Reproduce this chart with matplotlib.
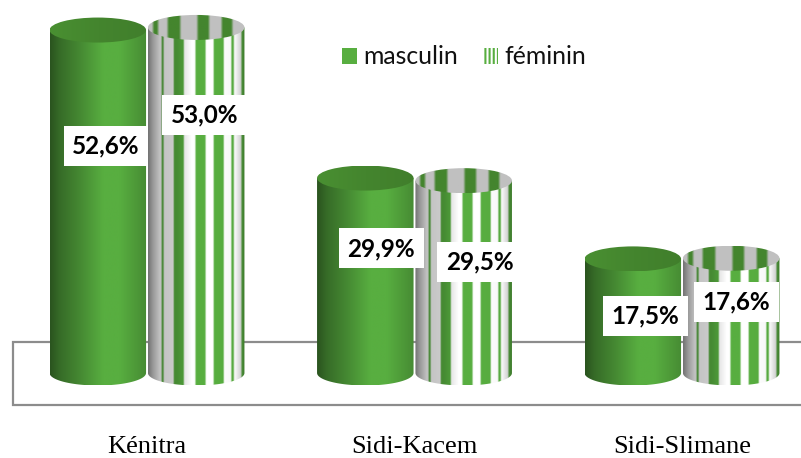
import numpy as np
import matplotlib
matplotlib.use("Agg")
import matplotlib.pyplot as plt
from matplotlib.patches import Polygon, Ellipse, Patch
from matplotlib.colors import to_rgb

categories = ["Kénitra", "Sidi-Kacem", "Sidi-Slimane"]
series_names = ["masculin", "féminin"]
masculin = [52.6, 29.9, 17.5]
feminin = [53.0, 29.5, 17.6]
labels_m = ["52,6%", "29,9%", "17,5%"]
labels_f = ["53,0%", "29,5%", "17,6%"]

W, H = 801, 458
PX_PER_UNIT = 6.52
CAT_PX = 267.5
X0_PX, BASE_PX = 147.0, 373.0
BAR_W = 96.5 / CAT_PX
OFFSET = 49.2 / CAT_PX
EH = 12.5 / PX_PER_UNIT  # ellipse half height

GREEN = np.array(to_rgb("#58ae40"))
TOP_GREEN = np.array(to_rgb("#44852e"))
GREY = np.array(to_rgb("#c0c0c0"))
BODY_STRIPES = [(0.14, 0.16), (0.265, 0.37), (0.49, 0.595), (0.68, 0.785), (0.86, 0.885), (0.965, 1.0)]
TOP_STRIPES = [(0.05, 0.10), (0.20, 0.33), (0.51, 0.63), (0.76, 0.87)]

label_dx = [[8, 8], [16, 16], [12.5, 5]]
label_y = [[34.8, 39.6], [19.1, 17.0], [8.7, 10.9]]

plt.rcParams["hatch.linewidth"] = 1.5

fig = plt.figure(figsize=(W / 100, H / 100), dpi=100)
ax = fig.add_axes([0, 0, 1, 1])
xlim = (-X0_PX / CAT_PX, (W - X0_PX) / CAT_PX)
ylim = ((BASE_PX - H) / PX_PER_UNIT, BASE_PX / PX_PER_UNIT)
ax.set_axis_off()

# floor
fx0, fx1 = (13 - X0_PX) / CAT_PX, xlim[1] + 0.01
fy_back, fy_front = (BASE_PX - 342) / PX_PER_UNIT, (BASE_PX - 404.5) / PX_PER_UNIT
ax.plot([fx1, fx0, fx0, fx1], [fy_back, fy_back, fy_front, fy_front],
        color="#8c8c8c", lw=1.6, solid_joinstyle="miter", zorder=1, clip_on=False)


def shade(n, pts):
    t = np.linspace(0, 1, n)
    return np.interp(t, [p[0] for p in pts], [p[1] for p in pts])


def blur(a, k):
    kern = np.ones(k) / k
    pad = np.pad(a, ((0, 0), (k, k), (0, 0)), mode="edge")
    return np.stack([np.apply_along_axis(lambda r: np.convolve(r, kern, mode="same"), 1, pad[:, :, c])
                     for c in range(3)], axis=2)[:, k:-k, :]


def stripes(n, spans, base, col, k=5):
    img = np.tile(base, (1, n, 1)).astype(float)
    t = np.linspace(0, 1, n)
    for a, b in spans:
        img[0, (t >= a) & (t <= b)] = col
    return blur(img, k)


def body_clip(xc, v):
    t = np.linspace(np.pi, 2 * np.pi, 60)
    xs = xc + BAR_W / 2 * np.cos(t)
    ys = EH * np.sin(t)
    pts = np.column_stack([xs, ys])
    pts = np.vstack([pts, [xc + BAR_W / 2, v], [xc - BAR_W / 2, v]])
    return Polygon(pts, closed=True, transform=ax.transData, fc="none", ec="none")


def draw_img(img, extent, clip, z):
    im = ax.imshow(img, extent=extent, aspect="auto", interpolation="bilinear", zorder=z)
    ax.add_patch(clip)
    im.set_clip_path(clip)


def cylinder(xc, v, female, z):
    n = 192
    ext = (xc - BAR_W / 2, xc + BAR_W / 2, -EH, v)
    if female:
        img = stripes(n, BODY_STRIPES, np.ones((1, 1, 3)), GREEN, k=3)
        s = shade(n, [(0, .45), (.05, .6), (.12, .76), (.3, .8), (.45, 1), (.7, 1), (.9, .97), (1, .72)])
    else:
        img = np.tile(GREEN, (1, n, 1))
        s = shade(n, [(0, .48), (.1, .62), (.3, .78), (.55, 1), (.72, 1), (1, .8)])
    draw_img(img * s[None, :, None], ext, body_clip(xc, v), z)

    top_ext = (xc - BAR_W / 2, xc + BAR_W / 2, v - EH, v + EH)
    if female:
        timg = stripes(n, TOP_STRIPES, GREY[None, None, :], TOP_GREEN, k=5)
    else:
        timg = np.tile(TOP_GREEN, (1, n, 1)) * shade(n, [(0, 1.08), (.5, 1), (1, .95)])[None, :, None]
    clip = Ellipse((xc, v), BAR_W, 2 * EH, transform=ax.transData, fc="none", ec="none")
    draw_img(np.clip(timg, 0, 1), top_ext, clip, z + 0.1)


for i, (m, f) in enumerate(zip(masculin, feminin)):
    cylinder(i - OFFSET, m, False, 3 + i)
    cylinder(i + OFFSET, f, True, 3.5 + i)
    for xc, dx, y, lab in [(i - OFFSET, label_dx[i][0], label_y[i][0], labels_m[i]),
                           (i + OFFSET, label_dx[i][1], label_y[i][1], labels_f[i])]:
        ax.text(xc + dx / CAT_PX, y, lab, ha="center", va="center", family="Lato",
                weight="bold", fontsize=17.5, color="black", zorder=20,
                bbox=dict(boxstyle="square,pad=0.35", fc="white", ec="none"))
    ax.text(i, (BASE_PX - 447) / PX_PER_UNIT, categories[i], ha="center", va="center",
            family="Liberation Serif", fontsize=19, color="black")

ax.set_xlim(xlim)
ax.set_ylim(ylim)

handles = [Patch(facecolor="#58ae40", edgecolor="none", label=series_names[0]),
           Patch(facecolor="white", edgecolor="#58ae40", hatch="||||", lw=0, label=series_names[1])]
leg = ax.legend(handles=handles, loc="center", bbox_to_anchor=(464 / W, 1 - 57 / H),
                bbox_transform=fig.transFigure, ncol=2, frameon=False, handlelength=0.6,
                handleheight=0.6, handletextpad=0.24, columnspacing=1.05,
                borderpad=0, borderaxespad=0,
                prop={"family": "Lato", "size": 17.8}, labelcolor="#111111")
leg.set_zorder(30)
fig.savefig("out.png", dpi=100)
